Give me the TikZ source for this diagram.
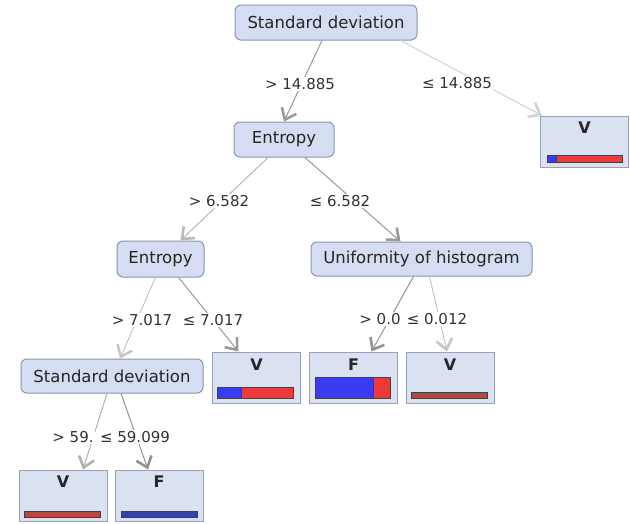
\documentclass[tikz,border=0pt]{standalone}
\usepackage{fontspec}
\setmainfont{DejaVu Sans}
\usetikzlibrary{arrows.meta}
\definecolor{nodefill}{HTML}{D4DDF1}
\definecolor{nodeline}{HTML}{8A96B2}
\definecolor{leaffill}{HTML}{DAE1F1}
\definecolor{leafline}{HTML}{98A2B6}
\definecolor{barblue}{HTML}{3A3AF0}
\definecolor{barred}{HTML}{EE3A3A}
\definecolor{purered}{HTML}{B8473F}
\definecolor{pureblue}{HTML}{3343A6}
\begin{document}
\begin{tikzpicture}[x=1pt,y=-1pt,
  split/.style={draw=nodeline, fill=nodefill, rounded corners=6pt, line width=1pt, inner sep=0pt, font=\fontsize{16.5}{19}\selectfont, text=black!85},
  leaf/.style={draw=leafline, fill=leaffill, line width=1pt, minimum width=88pt, minimum height=51pt, inner sep=0pt},
  cls/.style={font=\fontsize{16}{19}\selectfont\bfseries, text=black!85, inner sep=0pt},
  elabel/.style={fill=white, inner sep=1pt, font=\fontsize{15}{18}\selectfont, text=black!80},
  edge/.style={draw=#1, line width=1pt, -{Straight Barb[length=10pt,width=16pt,line width=2.6pt]}},
  edge/.default=gray!70,
  barline/.style={draw=black!75, line width=0.8pt}
]
\fill[white] (0,0) rectangle (630,523);
\useasboundingbox (0,0) rectangle (630,523);

% split nodes
\node[split, minimum width=182pt, minimum height=35pt] (root) at (326,22.5) {Standard deviation};
\node[split, minimum width=100pt, minimum height=35pt] (ent1) at (284,139.5) {Entropy};
\node[split, minimum width=87pt, minimum height=36pt] (ent2) at (160.5,259) {Entropy};
\node[split, minimum width=221pt, minimum height=34pt] (unif) at (421.5,259) {Uniformity of histogram};
\node[split, minimum width=182pt, minimum height=34pt] (sd2) at (112,376) {Standard deviation};

% leaves
\node[leaf] (l1) at (584.5,141.5) {};
\node[leaf] (l2) at (256.5,377.5) {};
\node[leaf] (l3) at (353.5,377.5) {};
\node[leaf] (l4) at (450,377.5) {};
\node[leaf] (l5) at (63,495.5) {};
\node[leaf] (l6) at (159,495.5) {};

\node[cls] (c1) at (584.5,128) {V};
\node[cls] (c2) at (256.5,365) {V};
\node[cls] (c3) at (353.5,365) {F};
\node[cls] (c4) at (450,365) {V};
\node[cls] (c5) at (63,482) {V};
\node[cls] (c6) at (159,482) {F};

% class bars
\draw[barline, fill=barblue] (547,155) rectangle (556,162);
\draw[barline, fill=barred] (556,155) rectangle (622,162);
\draw[barline, fill=barblue] (217,387) rectangle (241,398);
\draw[barline, fill=barred] (241,387) rectangle (293,398);
\draw[barline, fill=barblue] (315,377) rectangle (373,398);
\draw[barline, fill=barred] (373,377) rectangle (390,398);
\draw[barline, fill=purered] (411,392) rectangle (487,398);
\draw[barline, fill=purered] (24,511) rectangle (100,517);
\draw[barline, fill=pureblue] (121,511) rectangle (197,517);

% edges
\draw[edge=gray!80] ([xshift=-4pt]root.south) -- (ent1.north);
\draw[edge=gray!35] ([xshift=-17pt]root.south east) -- ([xshift=2pt]l1.north west);
\draw[edge=gray!55] ([xshift=-16pt]ent1.south) -- ([xshift=20pt]ent2.north);
\draw[edge=gray!80] ([xshift=21pt]ent1.south) -- ([xshift=-21pt]unif.north);
\draw[edge=gray!45] ([xshift=-5pt]ent2.south) -- ([xshift=8pt]sd2.north);
\draw[edge=gray!80] ([xshift=18pt]ent2.south) -- ([xshift=-18pt]l2.north);
\draw[edge=gray!85] ([xshift=-8pt]unif.south) -- ([xshift=18pt]l3.north);
\draw[edge=gray!45] ([xshift=8pt]unif.south) -- ([xshift=-3pt]l4.north);
\draw[edge=gray!60] ([xshift=-5pt]sd2.south) -- ([xshift=20pt]l5.north);
\draw[edge=gray!85] ([xshift=9pt]sd2.south) -- ([xshift=-11pt]l6.north);

% edge labels
\node[elabel] (t1) at (300,84) {> 14.885};
\node[elabel] (t2) at (457,83) {≤ 14.885};
\node[elabel] (t3) at (219,201) {> 6.582};
\node[elabel] (t4) at (340,201) {≤ 6.582};
\node[elabel] (t5) at (142,320) {> 7.017};
\node[elabel] (t6) at (213,320) {≤ 7.017};
\node[elabel] (t7) at (380,319) {> 0.0};
\node[elabel] (t8) at (437,319) {≤ 0.012};
\node[elabel] (t9) at (73,437) {> 59.};
\node[elabel] (t10) at (135,437) {≤ 59.099};
\end{tikzpicture}
\end{document}
